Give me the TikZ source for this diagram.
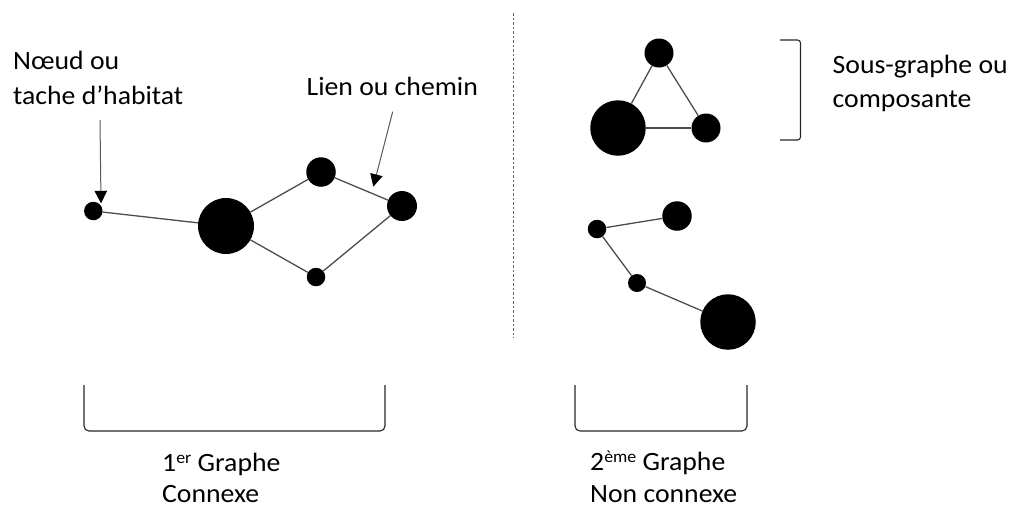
\documentclass[tikz,border=0pt]{standalone}
\usepackage{fontspec}
\setmainfont{Carlito}[FakeStretch=1.05]
\usetikzlibrary{arrows.meta}
\newcommand{\mysup}[1]{\raisebox{8pt}{\fontsize{17}{17}\selectfont #1}}
\begin{document}
\begin{tikzpicture}[x=1pt,y=-1pt,
  dot/.style={circle,fill=black,inner sep=0pt,minimum size=#1},
  edge/.style={draw=black!70,line width=1.3pt},
  lbl/.style={anchor=base west,inner sep=0pt,font=\fontsize{26.4}{34}\selectfont},
  pointer/.style={draw=black!65,line width=1pt,-{Triangle[width=12.5pt,length=12.5pt,color=black]}},
  brk/.style={draw=black!85,line width=1.1pt,rounded corners=5pt}]
\useasboundingbox (0,0) rectangle (1014,507);
% first graph
\node[dot=18.5pt] (a) at (93.3,211) {};
\node[dot=56pt] (b) at (226,226) {};
\node[dot=29.5pt] (c) at (321,172) {};
\node[dot=30pt] (d) at (402,206) {};
\node[dot=18.5pt] (e) at (316,277) {};
\draw[edge] (a) -- (b);
\draw[edge] (b) -- (c);
\draw[edge] (c) -- (d);
\draw[edge] (d) -- (e);
\draw[edge] (e) -- (b);
% labels and pointers
\node[lbl] (t1) at (13,69.3) {Nœud ou};
\node[lbl] (t2) at (13,104) {tache d’habitat};
\node[lbl] (t3) at (306.5,95) {Lien ou chemin};
\coordinate (p1s) at (100,120);
\coordinate (p1e) at (101,203.3);
\coordinate (p2s) at (392.7,111.7);
\coordinate (p2e) at (373.3,186.7);
\draw[pointer] (p1s) -- (p1e);
\draw[pointer] (p2s) -- (p2e);
% separator
\coordinate (s1) at (513,13);
\coordinate (s2) at (513,338);
\draw[black!60,line width=1pt,dash pattern=on 2.5pt off 2pt] (s1) -- (s2);
% second graph, component 1
\node[dot=29pt] (f) at (659,53) {};
\node[dot=55.5pt] (g) at (618,128) {};
\node[dot=29pt] (h) at (706,128) {};
\draw[edge] (f) -- (g);
\draw[edge] (f) -- (h);
\draw[edge] (g) -- (h);
% component 2
\node[dot=18.5pt] (i) at (597,229) {};
\node[dot=29.5pt] (j) at (677,216) {};
\node[dot=18pt] (k) at (637,283) {};
\node[dot=55.5pt] (l) at (728,322) {};
\draw[edge] (i) -- (j);
\draw[edge] (i) -- (k);
\draw[edge] (k) -- (l);
% right bracket and label
\coordinate (r1) at (780,40);
\coordinate (r2) at (800.5,40);
\coordinate (r3) at (800.5,140);
\coordinate (r4) at (780,140);
\draw[brk,rounded corners=3pt] (r1) -- (r2) -- (r3) -- (r4);
\node[lbl] (t4) at (832.5,73.3) {Sous-graphe ou};
\node[lbl] (t5) at (832.5,107.3) {composante};
% bottom brackets
\coordinate (b1) at (84,385);
\coordinate (b2) at (84,431);
\coordinate (b3) at (385,431);
\coordinate (b4) at (385,385);
\draw[brk] (b1) -- (b2) -- (b3) -- (b4);
\coordinate (c1) at (575,385);
\coordinate (c2) at (575,431);
\coordinate (c3) at (747,431);
\coordinate (c4) at (747,385);
\draw[brk] (c1) -- (c2) -- (c3) -- (c4);
\node[lbl] (t6) at (162,471.7) {1\mysup{er} Graphe};
\node[lbl] (t7) at (162,502) {Connexe};
\node[lbl] (t8) at (590,470) {2\mysup{ème} Graphe};
\node[lbl] (t9) at (590,502) {Non connexe};
\end{tikzpicture}
\end{document}
